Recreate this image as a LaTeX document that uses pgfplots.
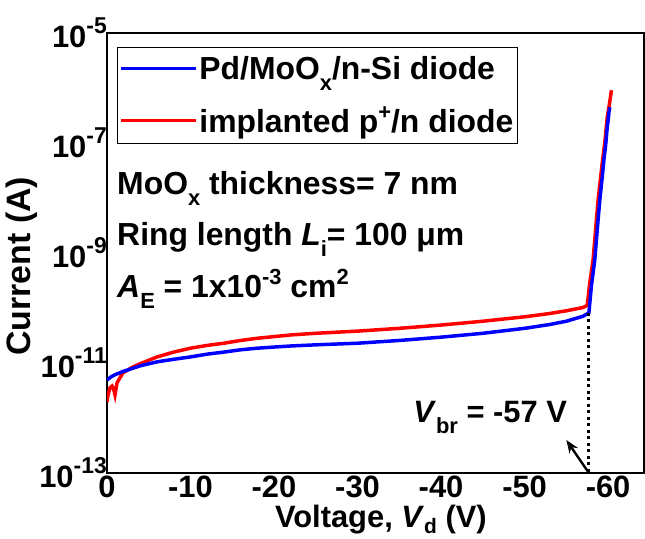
\documentclass[border=0pt]{standalone}
\usepackage{fontspec}
\setmainfont{Liberation Sans}
\usepackage{pgfplots}
\pgfplotsset{compat=1.18}
\usetikzlibrary{arrows.meta}
\newcommand{\fs}{\fontsize{31}{35}\selectfont\bfseries}
\newcommand{\fa}{\fontsize{32}{36}\selectfont\bfseries}
\newcommand{\fy}{\fontsize{34}{38}\selectfont\bfseries}
\newcommand{\sub}[1]{\raisebox{-11bp}{\fontsize{22}{22}\selectfont #1}}
\newcommand{\subd}[1]{\raisebox{-6bp}{\fontsize{21}{21}\selectfont #1}}
\newcommand{\sups}[1]{\raisebox{13bp}{\fontsize{22}{22}\selectfont #1}}
\newcommand{\tl}[1]{10\raisebox{14bp}{\fontsize{23}{23}\selectfont #1}}
\begin{document}
\begin{tikzpicture}
\begin{axis}[
 scale only axis, width=537bp, height=440bp,
 at={(0,0)}, anchor=south west,
 x dir=reverse, xmin=-64.3, xmax=0,
 ymode=log, ymin=1e-13, ymax=1e-5,
 xtick={0,-10,-20,-30,-40,-50,-60},
 xticklabels={0,-10,-20,-30,-40,-50,-60},
 ytick={1e-13,1e-11,1e-9,1e-7,1e-5},
 yticklabels={\tl{-13},\tl{-11},\tl{-9},\tl{-7},\tl{-5}},
 major tick length=0pt, minor tick length=0pt,
 tick label style={font=\fs},
 xticklabel style={anchor=north, inner sep=0pt, yshift=-3bp},
 yticklabel style={anchor=base east, inner sep=0pt, yshift=-14bp},
 axis line style={line width=1.3pt},
 xlabel={Voltage, \textit{V}\subd{d} (V)},
 ylabel={Current (A)},
 xlabel style={font=\fs, inner sep=0pt, at={(axis description cs:0.51,-0.123)}, anchor=base},
 ylabel style={font=\fy, at={(axis description cs:-0.158,0.47)}, anchor=center},
 legend style={at={(axis description cs:0.0187,0.968)}, anchor=north west,
   draw=black, line width=0.8pt, font=\fa, inner xsep=2bp, inner ysep=7bp,
   row sep=22bp, cells={anchor=west}},
 legend image code/.code={\draw[#1, line width=3pt] (0bp,0bp) -- (75bp,0bp);},
 reverse legend,
]
\addplot[red, line width=3.5pt] coordinates {
(0,1.95e-12) (-0.1,2.51e-12) (-0.36,3.55e-12) (-0.6,3.80e-12) (-0.8,3.31e-12)
(-0.96,2.63e-12) (-1.2,4.37e-12) (-1.9,6.61e-12) (-3,8.32e-12) (-4,9.77e-12)
(-6,1.29e-11) (-8,1.58e-11) (-10,1.86e-11) (-12,2.09e-11) (-14,2.29e-11)
(-16,2.57e-11) (-18,2.82e-11) (-20,3.02e-11) (-22,3.24e-11) (-25,3.47e-11)
(-30,3.80e-11) (-35,4.27e-11) (-40,4.90e-11) (-45,5.75e-11) (-50,6.92e-11)
(-53,7.94e-11) (-55,8.91e-11) (-57,1.02e-10) (-57.5,1.12e-10) (-57.8,2.82e-10)
(-58.2,7.41e-10) (-58.8,9.12e-9) (-59.3,4.37e-8) (-59.6,1.0e-7) (-59.9,2.95e-7)
(-60.2,5.62e-7) (-60.4,9.12e-7)
};
\addlegendentry{implanted p\sups{+}/n diode}
\addplot[blue, line width=3.5pt] coordinates {
(0,4.90e-12) (-0.5,5.62e-12) (-1,6.17e-12) (-2,7.08e-12) (-3,7.94e-12)
(-4,8.91e-12) (-6,1.05e-11) (-8,1.17e-11) (-10,1.29e-11) (-12,1.45e-11)
(-14,1.58e-11) (-16,1.74e-11) (-18,1.86e-11) (-20,1.95e-11) (-22,2.04e-11)
(-25,2.14e-11) (-30,2.29e-11) (-35,2.57e-11) (-40,2.95e-11) (-45,3.47e-11)
(-50,4.27e-11) (-53,5.01e-11) (-55,5.75e-11) (-57,7.08e-11) (-57.7,8.13e-11)
(-58.0,2.51e-10) (-58.4,7.41e-10) (-58.8,3.98e-9) (-59.0,8.91e-9) (-59.3,2.40e-8)
(-59.5,5.01e-8) (-59.7,8.91e-8) (-59.9,1.95e-7) (-60.0,2.51e-7) (-59.95,2.2e-7)
(-60.1,3.55e-7) (-60.05,3.2e-7) (-60.2,4.47e-7)
};
\addlegendentry{Pd/MoO\sub{x}/n-Si diode}
\addplot[black, line width=3bp, dash pattern=on 3bp off 3.5bp, forget plot]
 coordinates {(-57.7,8.13e-11) (-57.7,1e-13)};
\addplot[black, line width=2.4bp, -{Stealth[length=13bp,width=10bp]}, forget plot]
 coordinates {(-57.7,1e-13) (-55.0,3.98e-13)};
\node[anchor=base west, font=\fa, inner sep=0pt] at (axis description cs:0.0187,0.632) {MoO\sub{x} thickness= 7 nm};
\node[anchor=base west, font=\fa, inner sep=0pt] at (axis description cs:0.0187,0.518) {Ring length \textit{L}\sub{i}= 100 μm};
\node[anchor=base west, font=\fa, inner sep=0pt] at (axis description cs:0.0187,0.40) {\textit{A}\sub{E} = 1x10\sups{-3} cm\sups{2}};
\node[anchor=base west, font=\fs, inner sep=0pt] at (axis description cs:0.570,0.114) {\textit{V}\sub{br} = -57 V};
\end{axis}
\pgfresetboundingbox
\useasboundingbox (-107bp,-66bp) rectangle (538bp,473bp);
\end{tikzpicture}
\end{document}
